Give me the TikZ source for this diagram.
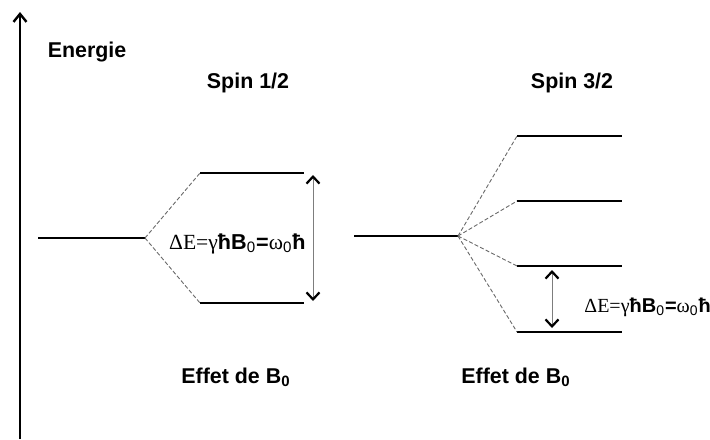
\documentclass[tikz,border=0pt]{standalone}
\usepackage{fontspec}
\setmainfont{Liberation Sans}
\newfontfamily\seriffont{Liberation Serif}
\usepackage{tikz}
\usetikzlibrary{arrows.meta}
\usepackage{xcolor}
\definecolor{dashgray}{RGB}{105,105,105}
\definecolor{gapgray}{RGB}{125,125,125}

\newcommand{\deltaE}{{\seriffont ΔE=γ}\textbf{ħB}\textsubscript{0}\textbf{=}{\seriffont ω}\textsubscript{0}\textbf{ħ}}

\begin{document}
\begin{tikzpicture}[x=0.5pt,y=-0.5pt,
  lbl/.style={font=\bfseries\fontsize{10.7}{13}\selectfont},
  gaplbl/.style={font=\fontsize{10.8}{13}\selectfont, inner sep=0pt},
  level/.style={line width=1pt},
  ground/.style={line width=1.3pt},
  split/.style={dashgray, line width=0.45pt, dash pattern=on 2pt off 1.1pt},
  gap/.style={gapgray, line width=0.5pt,
    {Straight Barb[color=black,length=3.5pt,width=6.5pt,line width=1.1pt]}-{Straight Barb[color=black,length=3.5pt,width=6.5pt,line width=1.1pt]}}]
  \useasboundingbox (0,0) rectangle (710,439);

  % Energy axis
  \coordinate (axbot) at (20,439);
  \coordinate (axtop) at (20,12);
  \draw[line width=1.3pt, -{Straight Barb[length=4pt,width=6.5pt,line width=1.2pt]}] (axbot) -- (axtop);

  % Titles
  \node[lbl] (energie) at (87,52) {Energie};
  \node[lbl] (spinA) at (248,83) {Spin 1/2};
  \node[lbl] (spinB) at (572,83) {Spin 3/2};

  % Spin 1/2 levels
  \coordinate (a0l) at (38,238);  \coordinate (a0r) at (145,238);
  \coordinate (a1l) at (200,173); \coordinate (a1r) at (304,173);
  \coordinate (a2l) at (200,303); \coordinate (a2r) at (304,303);
  \draw[ground] (a0l) -- (a0r);
  \draw[level] (a1l) -- (a1r);
  \draw[level] (a2l) -- (a2r);
  \draw[split] (a0r) -- (a1l);
  \draw[split] (a0r) -- (a2l);

  % Spin 1/2 gap
  \coordinate (ga1) at (313,175);
  \coordinate (ga2) at (313,301);
  \draw[gap] (ga1) -- (ga2);
  \node[gaplbl, anchor=east] (dEA) at (306,244) {\deltaE};

  % Spin 3/2 levels
  \coordinate (b0l) at (354,236); \coordinate (b0r) at (458,236);
  \coordinate (b1l) at (517,136); \coordinate (b1r) at (622,136);
  \coordinate (b2l) at (517,201); \coordinate (b2r) at (622,201);
  \coordinate (b3l) at (517,266); \coordinate (b3r) at (622,266);
  \coordinate (b4l) at (517,332); \coordinate (b4r) at (622,332);
  \draw[ground] (b0l) -- (b0r);
  \draw[level] (b1l) -- (b1r);
  \draw[level] (b2l) -- (b2r);
  \draw[level] (b3l) -- (b3r);
  \draw[ground] (b4l) -- (b4r);
  \draw[split] (b0r) -- (b1l);
  \draw[split] (b0r) -- (b2l);
  \draw[split] (b0r) -- (b3l);
  \draw[split] (b0r) -- (b4l);

  % Spin 3/2 gap
  \coordinate (gb1) at (552,270);
  \coordinate (gb2) at (552,328);
  \draw[gap] (gb1) -- (gb2);
  \node[gaplbl, font=\fontsize{10}{12}\selectfont, anchor=west] (dEB) at (584,307) {\deltaE};

  % Bottom captions
  \node[lbl] (effetA) at (236,377) {Effet de B\textsubscript{0}};
  \node[lbl] (effetB) at (516,377) {Effet de B\textsubscript{0}};
\end{tikzpicture}
\end{document}
